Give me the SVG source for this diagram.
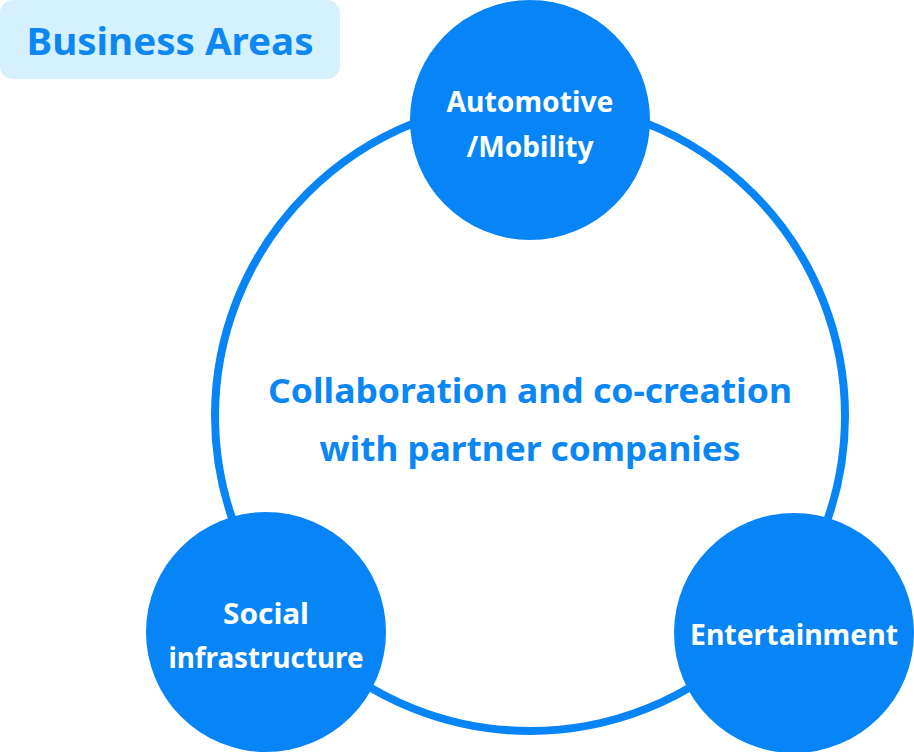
<svg xmlns="http://www.w3.org/2000/svg" width="914" height="752" viewBox="0 0 914 752">
<style>
.t{font-family:"Noto Sans","Open Sans","Liberation Sans",sans-serif;font-weight:700;}
.w{fill:#ffffff;font-size:28px;text-anchor:middle;}
.b{fill:#0a86f5;font-size:34px;text-anchor:middle;}
.node{fill:#0785f6;}
</style>
<rect width="914" height="752" fill="#ffffff"/>
<g id="badge">
<rect x="0" y="0" width="340" height="79" rx="13" fill="#d5f1fd"/>
<text class="t" x="170" y="55" font-size="37" fill="#0d88f3" text-anchor="middle" textLength="287" lengthAdjust="spacingAndGlyphs">Business Areas</text>
</g>
<g id="connectors">
<circle cx="530" cy="416" r="315" fill="none" stroke="#0785f6" stroke-width="8"/>
</g>
<g id="center">
<text class="t b" x="530" y="403" textLength="524" lengthAdjust="spacingAndGlyphs">Collaboration and co-creation</text>
<text class="t b" x="530" y="461" textLength="421" lengthAdjust="spacingAndGlyphs">with partner companies</text>
</g>
<g id="automotive">
<circle class="node" cx="530" cy="120" r="120"/>
<text class="t w" x="530" y="112" textLength="167" lengthAdjust="spacingAndGlyphs">Automotive</text>
<text class="t w" x="530" y="157" textLength="127" lengthAdjust="spacingAndGlyphs">/Mobility</text>
</g>
<g id="social">
<circle class="node" cx="266" cy="632" r="120"/>
<text class="t w" x="266" y="624" textLength="86" lengthAdjust="spacingAndGlyphs">Social</text>
<text class="t w" x="266" y="668" textLength="195" lengthAdjust="spacingAndGlyphs">infrastructure</text>
</g>
<g id="entertainment">
<circle class="node" cx="794" cy="633" r="120"/>
<text class="t w" x="794" y="645" textLength="208" lengthAdjust="spacingAndGlyphs">Entertainment</text>
</g>
</svg>
